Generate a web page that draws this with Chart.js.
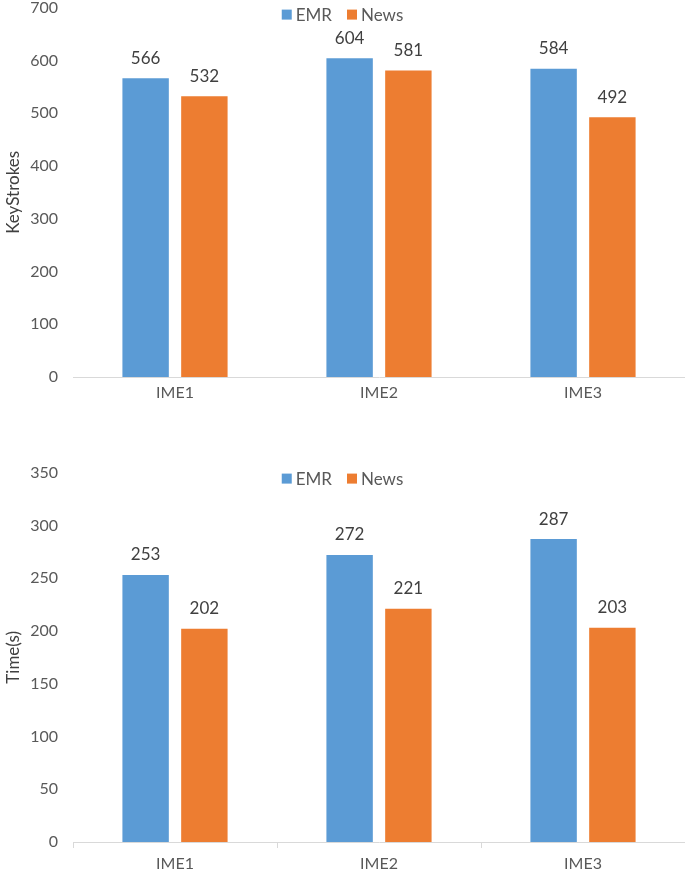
<!DOCTYPE html>
<html lang="en">
<head>
<meta charset="UTF-8">
<title>IME KeyStrokes and Time</title>
<script src="https://cdn.jsdelivr.net/npm/chart.js"></script>
<style>
  body { margin: 0; background: #fff; overflow: hidden; }
  .box { position: absolute; left: 0; width: 685px; height: 419px; }
</style>
</head>
<body>

<div class="box" style="top:-9px"><canvas id="keyChart"></canvas></div>
<div class="box" style="top:456px"><canvas id="timeChart"></canvas></div>

<script>
// data
const categories = ['IME1', 'IME2', 'IME3'];
const seriesNames = ['EMR', 'News'];
const keyEMR = [566, 604, 584];
const keyNews = [532, 581, 492];
const timeEMR = [253, 272, 287];
const timeNews = [202, 221, 203];

const BLUE = '#5B9BD5';
const ORANGE = '#ED7D31';
const FONT = 'Lato, "Open Sans", sans-serif';

// draws the value above every bar
const valueLabels = {
    id: 'valueLabels',
    afterDatasetsDraw(chart) {
        const ctx = chart.ctx;
        ctx.save();
        ctx.fillStyle = '#404040';
        ctx.font = '17px ' + FONT;
        ctx.textAlign = 'center';
        ctx.textBaseline = 'middle';
        chart.data.datasets.forEach((ds, i) => {
            chart.getDatasetMeta(i).data.forEach((bar, j) => {
                ctx.fillText(ds.data[j], bar.x, bar.y - 20);
            });
        });
        ctx.restore();
    }
};

// legend sitting inside the top of the plot, like the original
const topLegend = {
    id: 'topLegend',
    afterDraw(chart, args, opts) {
        const ctx = chart.ctx;
        const box = 10, gap = 4, between = 15;
        ctx.save();
        ctx.font = '17px ' + FONT;
        ctx.textBaseline = 'middle';
        const items = chart.data.datasets.map(ds => ({
            text: ds.label, color: ds.backgroundColor, w: ctx.measureText(ds.label).width
        }));
        let total = items.reduce((s, it) => s + box + gap + it.w, 0) + between * (items.length - 1);
        let x = chart.width / 2 - total / 2;
        const y = chart.chartArea.top + opts.offset;
        items.forEach(it => {
            ctx.fillStyle = it.color;
            ctx.fillRect(x, y - box / 2, box, box);
            x += box + gap;
            ctx.fillStyle = '#595959';
            ctx.fillText(it.text, x, y + 1);
            x += it.w + between;
        });
        ctx.restore();
    }
};

function makeChart(id, emr, news, yMax, yStep, yTitle, showTicks, legendOffset) {
    return new Chart(document.getElementById(id), {
        type: 'bar',
        data: {
            labels: categories,
            datasets: [
                { label: seriesNames[0], data: emr, backgroundColor: BLUE },
                { label: seriesNames[1], data: news, backgroundColor: ORANGE }
            ]
        },
        options: {
            responsive: true,
            maintainAspectRatio: false,
            animation: false,
            datasets: { bar: { categoryPercentage: 0.576, barPercentage: 0.79 } },
            plugins: {
                legend: { display: false },
                tooltip: { enabled: false },
                topLegend: { offset: legendOffset }
            },
            scales: {
                x: {
                    grid: {
                        drawOnChartArea: false,
                        drawTicks: showTicks,
                        tickLength: 6,
                        color: '#d9d9d9'
                    },
                    border: { color: '#d9d9d9' },
                    ticks: { color: '#595959', font: { family: FONT, size: 16 }, padding: 6 },
                    afterFit: s => { s.height = 33; }
                },
                y: {
                    min: 0, max: yMax,
                    grid: { display: false },
                    border: { display: false },
                    ticks: { stepSize: yStep, color: '#595959', font: { family: FONT, size: 16 }, padding: 7 },
                    title: { display: true, text: yTitle, color: '#404040', font: { family: FONT, size: 17 }, padding: 3 },
                    afterFit: s => { s.width = 73; }
                }
            }
        },
        plugins: [valueLabels, topLegend]
    });
}

makeChart('keyChart', keyEMR, keyNews, 700, 100, 'KeyStrokes', false, 7);
makeChart('timeChart', timeEMR, timeNews, 350, 50, 'Time(s)', true, 6);
</script>

</body>
</html>
